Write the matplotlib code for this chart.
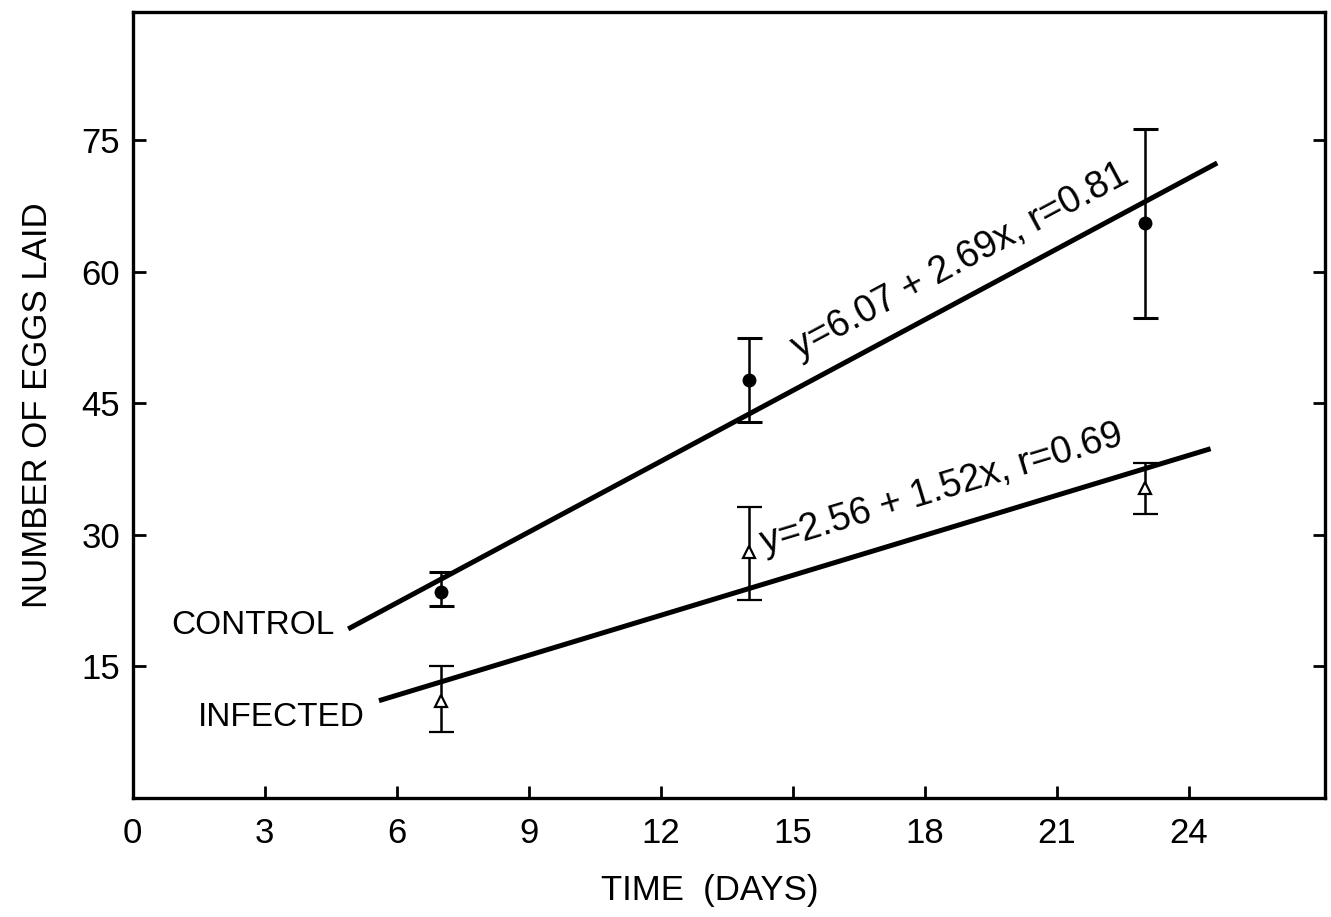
import matplotlib
matplotlib.use("Agg")
import matplotlib.pyplot as plt
import numpy as np

plt.rcParams['font.family'] = ['Liberation Sans', 'DejaVu Sans']

# measured means and error bar limits
days = [7, 14, 23]
control_mean = [23.5, 47.6, 65.5]
control_lo = [21.9, 42.8, 54.7]
control_hi = [25.7, 52.4, 76.2]
infected_mean = [11.0, 28.0, 35.3]
infected_lo = [7.5, 22.6, 32.3]
infected_hi = [15.0, 33.1, 38.2]

# regression fits y = a + b*x
control_fit = (6.07, 2.69)
control_span = (4.9, 24.65)
infected_fit = (2.56, 1.52)
infected_span = (5.6, 24.5)

x_ticks = [0, 3, 6, 9, 12, 15, 18, 21, 24]
y_ticks = [15, 30, 45, 60, 75]

fig = plt.figure(figsize=(13.31, 9.17), dpi=100)
ax = fig.add_axes([0.0996, 0.13, 0.8959, 0.857])

def fit_line(fit, span):
    xs = np.array(span)
    return xs, fit[0] + fit[1] * xs

xs, ys = fit_line(control_fit, control_span)
ax.plot(xs, ys, color='black', lw=3.6, solid_capstyle='butt')
xs, ys = fit_line(infected_fit, infected_span)
ax.plot(xs, ys, color='black', lw=3.6, solid_capstyle='butt')

def errs(mean, lo, hi):
    m = np.array(mean)
    return [m - np.array(lo), np.array(hi) - m]

ax.errorbar(days, control_mean, yerr=errs(control_mean, control_lo, control_hi),
            fmt='o', color='black', ms=9, elinewidth=1.8, capsize=9, capthick=2.2)
ax.errorbar(days, infected_mean, yerr=errs(infected_mean, infected_lo, infected_hi),
            fmt='^', color='black', mfc='white', mec='black', mew=1.6, ms=8,
            elinewidth=1.8, capsize=9, capthick=2.2)

ax.set_xlim(0, 27.1)
ax.set_ylim(0, 89.6)
ax.set_xticks(x_ticks)
ax.set_yticks(y_ticks)
ax.tick_params(axis='x', direction='in', length=9, width=2, labelsize=25, pad=14,
               top=False)
ax.tick_params(axis='y', direction='in', length=9, width=2, labelsize=25, pad=9,
               right=True)
for s in ax.spines.values():
    s.set_linewidth(2.4)

ax.set_xlabel('TIME  (DAYS)', fontsize=25, labelpad=17)
ax.xaxis.label.set_x(0.484)
ax.set_ylabel('NUMBER OF EGGS LAID', fontsize=25, labelpad=20)

ax.text(4.6, 19.6, 'CONTROL', fontsize=24, ha='right', va='center')
ax.text(5.28, 9.1, 'INFECTED', fontsize=24, ha='right', va='center')

# equation labels parallel to the lines
for fit, xc, off, txt in [(control_fit, 18.8, 4.5, 'y=6.07 + 2.69x, r=0.81'),
                          (infected_fit, 18.4, 4.6, 'y=2.56 + 1.52x, r=0.69')]:
    p1 = ax.transData.transform((0, fit[0]))
    p2 = ax.transData.transform((10, fit[0] + 10 * fit[1]))
    ang = np.degrees(np.arctan2(p2[1] - p1[1], p2[0] - p1[0]))
    ax.text(xc, fit[0] + fit[1] * xc + off, txt, fontsize=27, rotation=ang,
            rotation_mode='anchor', ha='center', va='center')

fig.savefig('out.png', dpi=100)
